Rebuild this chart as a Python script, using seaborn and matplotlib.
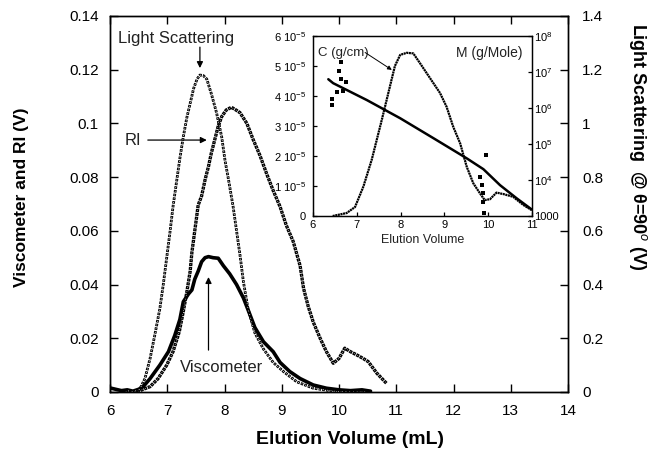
import numpy as np
import pandas as pd
import matplotlib
matplotlib.use("Agg")
import matplotlib.pyplot as plt
import seaborn as sns

# ---------------- data ----------------
ls_x = [6.30, 6.40, 6.52, 6.61, 6.70, 6.78, 6.87, 6.93, 6.99, 7.05, 7.10, 7.16, 7.22, 7.28,
        7.34, 7.40, 7.46, 7.52, 7.57, 7.63, 7.69, 7.77, 7.86, 7.95, 8.01, 8.07, 8.15, 8.21,
        8.27, 8.33, 8.41, 8.53, 8.68, 8.85, 9.03, 9.26, 9.55, 9.90, 10.20, 10.50]
ls_y = [0.005, 0.0, 0.01, 0.05, 0.125, 0.21, 0.31, 0.40, 0.50, 0.60, 0.69, 0.78, 0.87, 0.95,
        1.02, 1.075, 1.13, 1.165, 1.18, 1.178, 1.165, 1.11, 1.04, 0.95, 0.86, 0.79, 0.69, 0.60,
        0.51, 0.41, 0.31, 0.22, 0.16, 0.11, 0.076, 0.038, 0.014, 0.003, 0.0, 0.0]

ri_x = [6.40, 6.52, 6.70, 6.84, 6.99, 7.10, 7.21, 7.28, 7.34, 7.40, 7.43, 7.48, 7.54, 7.60,
        7.66, 7.72, 7.77, 7.83, 7.89, 7.95, 8.03, 8.12, 8.20, 8.27, 8.39, 8.50, 8.62, 8.74,
        8.85, 8.97, 9.08, 9.20, 9.32, 9.38, 9.46, 9.55, 9.67, 9.78, 9.90, 10.00, 10.10, 10.20,
        10.31, 10.42, 10.51, 10.66, 10.83]
ri_y = [0.000, 0.0005, 0.002, 0.005, 0.010, 0.015, 0.0225, 0.030, 0.037, 0.045, 0.052, 0.060,
        0.0696, 0.073, 0.079, 0.084, 0.089, 0.094, 0.099, 0.1025, 0.105, 0.106, 0.105, 0.104,
        0.100, 0.094, 0.088, 0.081, 0.075, 0.069, 0.062, 0.056, 0.047, 0.0386, 0.032, 0.026,
        0.020, 0.015, 0.0107, 0.0125, 0.0163, 0.015, 0.0138, 0.0125, 0.0113, 0.007, 0.0032]

visc_x = [6.00, 6.10, 6.20, 6.30, 6.40, 6.50, 6.58, 6.70, 6.87, 7.02, 7.13, 7.22, 7.28, 7.37,
          7.43, 7.48, 7.54, 7.60, 7.66, 7.72, 7.80, 7.89, 7.98, 8.09, 8.21, 8.33, 8.44, 8.53,
          8.68, 8.85, 8.97, 9.14, 9.32, 9.55, 9.78, 10.00, 10.20, 10.40, 10.55]
visc_y = [0.0015, 0.001, 0.0005, 0.0008, 0.0003, 0.001, 0.002, 0.005, 0.010, 0.015, 0.021,
          0.027, 0.0336, 0.0365, 0.038, 0.042, 0.045, 0.0485, 0.0500, 0.0504, 0.0500, 0.0498,
          0.047, 0.044, 0.040, 0.035, 0.029, 0.024, 0.0187, 0.015, 0.011, 0.0076, 0.005,
          0.0026, 0.0014, 0.0008, 0.0005, 0.0008, 0.0003]

# inset: concentration C (g/cm) and molar mass M (g/Mole)
c_x = [6.45, 6.77, 6.96, 7.15, 7.34, 7.57, 7.72, 7.87, 7.99, 8.14, 8.29, 8.44, 8.67, 8.90,
       9.05, 9.20, 9.36, 9.51, 9.66, 9.81, 9.92, 10.04, 10.19, 10.35, 10.57, 10.80, 10.99]
c_y = [0.0e-5, 0.1e-5, 0.3e-5, 0.98e-5, 1.87e-5, 3.2e-5, 4.1e-5, 5.0e-5, 5.37e-5, 5.44e-5,
       5.42e-5, 5.1e-5, 4.6e-5, 4.1e-5, 3.64e-5, 2.98e-5, 2.42e-5, 1.64e-5, 1.09e-5, 0.76e-5,
       0.53e-5, 0.56e-5, 0.78e-5, 0.73e-5, 0.64e-5, 0.37e-5, 0.2e-5]

m_x = [6.35, 6.46, 7.23, 7.99, 8.75, 9.51, 9.89, 10.27, 10.65, 11.00]
m_y = [6.3e6, 4.9e6, 1.66e6, 5.2e5, 1.45e5, 4.0e4, 2.0e4, 7.2e3, 3.1e3, 1.5e3]

m_scatter_x = [6.43, 6.44, 6.54, 6.65, 6.60, 6.63, 6.69, 6.75,
               9.81, 9.85, 9.87, 9.89, 9.91, 9.94]
m_scatter_y = [1.2e6, 1.8e6, 2.8e6, 1.95e7, 1.1e7, 6.3e6, 3.0e6, 5.4e6,
               1.23e4, 7.2e3, 4.3e3, 2.5e3, 1.23e3, 4.8e4]

main_xticks = [6, 7, 8, 9, 10, 11, 12, 13, 14]
left_yticks = [0, 0.02, 0.04, 0.06, 0.08, 0.1, 0.12, 0.14]
right_yticks = [0, 0.2, 0.4, 0.6, 0.8, 1.0, 1.2, 1.4]
inset_xticks = [6, 7, 8, 9, 10, 11]
inset_cticks = [0, 1e-5, 2e-5, 3e-5, 4e-5, 5e-5, 6e-5]
inset_clabels = ["0", "1 10$^{-5}$", "2 10$^{-5}$", "3 10$^{-5}$", "4 10$^{-5}$",
                 "5 10$^{-5}$", "6 10$^{-5}$"]
inset_mticks = [1e3, 1e4, 1e5, 1e6, 1e7, 1e8]
inset_mlabels = ["1000", "10$^{4}$", "10$^{5}$", "10$^{6}$", "10$^{7}$", "10$^{8}$"]

# ---------------- style ----------------
sns.set_theme(style="ticks")
plt.rcParams["font.family"] = ["Liberation Sans", "DejaVu Sans"]
plt.rcParams["mathtext.fontset"] = "custom"
plt.rcParams["mathtext.rm"] = "Liberation Sans"
plt.rcParams["mathtext.it"] = "Liberation Sans:italic"
plt.rcParams["mathtext.bf"] = "Liberation Sans:bold"
plt.rcParams["lines.scale_dashes"] = False
plt.rcParams["axes.linewidth"] = 1.0
plt.rcParams["axes.edgecolor"] = "black"
plt.rcParams["text.color"] = "#222222"
plt.rcParams["xtick.color"] = "black"
plt.rcParams["ytick.color"] = "black"

fig = plt.figure(figsize=(6.48, 4.54), dpi=100)
ax = fig.add_axes([0.1698, 0.1366, 0.7068, 0.8282])
ax2 = ax.twinx()

def hollow_line(axis, x, y, lw_out, on, off, lw_in, on_in):
    period = on + off
    sns.lineplot(x=x, y=y, ax=axis, color="black", lw=lw_out, estimator=None, sort=False,
                 linestyle=(0, (on, off)), dash_capstyle="butt")
    start = (on - on_in) / 2.0
    sns.lineplot(x=x, y=y, ax=axis, color="white", lw=lw_in, estimator=None, sort=False,
                 linestyle=(period - start, (on_in, period - on_in)), dash_capstyle="butt")

# viscometer: thick solid
sns.lineplot(x=visc_x, y=visc_y, ax=ax, color="black", lw=2.6, estimator=None, sort=False)
# RI: dense squares
hollow_line(ax, ri_x, ri_y, 2.4, 2.2, 0.6, 0.5, 0.5)
# light scattering: open squares (right axis)
hollow_line(ax2, ls_x, ls_y, 2.0, 1.9, 0.8, 0.6, 0.6)

ax.set_xlim(6, 14)
ax.set_ylim(0, 0.14)
ax2.set_ylim(0, 1.4)
ax.set_xticks(main_xticks)
ax.set_xticklabels([str(t) for t in main_xticks])
ax.set_yticks(left_yticks)
ax.set_yticklabels(["%g" % t for t in left_yticks])
ax2.set_yticks(right_yticks)
ax2.set_yticklabels(["%g" % t for t in right_yticks])

ax.tick_params(axis="x", direction="in", length=6, width=1, top=True, labelsize=11, pad=9)
ax.tick_params(axis="y", direction="in", length=6, width=1, labelsize=11, pad=8)
ax2.tick_params(axis="y", direction="in", length=6, width=1, labelsize=11, pad=10)
for a in (ax, ax2):
    for s in a.spines.values():
        s.set_visible(True)
        s.set_color("black")
        s.set_linewidth(1.0)

ax.set_xlabel("Elution Volume (mL)", fontsize=14, fontweight="bold", color="black")
ax.xaxis.set_label_coords(0.524, -0.104)
ax.set_ylabel("Viscometer and RI (V)", fontsize=12.5, fontweight="bold", color="black")
ax.yaxis.set_label_coords(-0.178, 0.519)
ax2.set_ylabel("Light Scattering  @ θ=90$^{o}$ (V)", fontsize=13, fontweight="bold",
               color="black", rotation=270, va="center")
ax2.yaxis.set_label_coords(1.153, 0.652)

arrow_kw = dict(arrowstyle="-|>", color="black", lw=0.9, mutation_scale=9, shrinkA=0, shrinkB=0)
ax.text(7.15, 0.1318, "Light Scattering", fontsize=12, ha="center", va="center", color="#222222")
ax.annotate("", xy=(7.57, 0.1206), xytext=(7.57, 0.1284), arrowprops=arrow_kw)
ax.text(6.40, 0.0935, "RI", fontsize=12, ha="center", va="center", color="#222222")
ax.annotate("", xy=(7.69, 0.0938), xytext=(6.66, 0.0938), arrowprops=arrow_kw)
ax.text(7.95, 0.0093, "Viscometer", fontsize=12, ha="center", va="center", color="#222222")
ax.annotate("", xy=(7.72, 0.0428), xytext=(7.72, 0.0156), arrowprops=arrow_kw)

# ---------------- inset ----------------
ins = fig.add_axes([0.483, 0.5242, 0.338, 0.3965])
ins.set_facecolor("white")
ins2 = ins.twinx()

sns.lineplot(x=c_x, y=c_y, ax=ins, color="black", lw=1.6, estimator=None, sort=False,
             linestyle=(0, (1.5, 0.4)), dash_capstyle="butt")
sns.lineplot(x=m_x, y=m_y, ax=ins2, color="black", lw=1.8, estimator=None, sort=False)
sns.scatterplot(x=m_scatter_x, y=m_scatter_y, ax=ins2, color="black", s=6, marker="s",
                edgecolor="black", linewidth=0)

ins.set_xlim(6, 11)
ins.set_ylim(0, 6e-5)
ins2.set_yscale("log")
ins2.set_ylim(1e3, 1e8)
ins.set_xticks(inset_xticks)
ins.set_xticklabels([str(t) for t in inset_xticks])
ins.set_yticks(inset_cticks)
ins.set_yticklabels(inset_clabels)
ins2.set_yticks(inset_mticks)
ins2.set_yticklabels(inset_mlabels)
ins2.yaxis.set_minor_locator(matplotlib.ticker.NullLocator())

ins.tick_params(axis="x", direction="in", length=3, width=0.9, labelsize=8, pad=3)
ins.tick_params(axis="y", direction="in", length=3, width=0.9, labelsize=8, pad=5)
ins2.tick_params(axis="y", direction="in", length=3, width=0.9, labelsize=8, pad=1.5)
for a in (ins, ins2):
    for s in a.spines.values():
        s.set_visible(True)
        s.set_color("black")
        s.set_linewidth(0.9)
ins.set_xlabel("Elution Volume", fontsize=9, color="#222222")
ins.xaxis.set_label_coords(0.5, -0.1)
ins.set_ylabel("")
ins2.set_ylabel("")

ins.text(6.12, 5.42e-5, "C (g/cm)", fontsize=9.5, ha="left", va="center", color="#222222")
ins.annotate("", xy=(7.80, 4.87e-5), xytext=(7.19, 5.45e-5),
             arrowprops=dict(arrowstyle="-|>", color="black", lw=0.7, mutation_scale=6,
                             shrinkA=0, shrinkB=0))
ins.text(10.78, 5.45e-5, "M (g/Mole)", fontsize=10, ha="right", va="center", color="#222222")

fig.savefig("out.png", dpi=100)
